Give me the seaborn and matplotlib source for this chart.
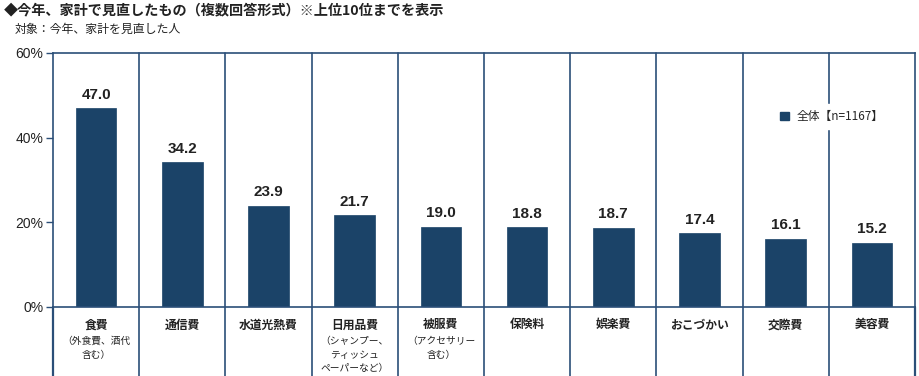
import matplotlib
matplotlib.use("Agg")
import matplotlib.pyplot as plt
import matplotlib.transforms as mtransforms
from matplotlib.patches import Patch
import seaborn as sns
import pandas as pd

# data
categories = ["食費", "通信費", "水道光熱費", "日用品費", "被服費",
              "保険料", "娯楽費", "おこづかい", "交際費", "美容費"]
notes = ["（外食費、酒代\n含む）", "", "", "（シャンプー、\nティッシュ\nペーパーなど）",
         "（アクセサリー\n含む）", "", "", "", "", ""]
values = [47.0, 34.2, 23.9, 21.7, 19.0, 18.8, 18.7, 17.4, 16.1, 15.2]
yticks = [0, 20, 40, 60]
series_label = "全体【n=1167】"

navy = "#1b4368"
line_col = "#2b4f78"

sns.set_theme(style="white")
plt.rcParams["font.family"] = ["Noto Sans CJK JP", "DejaVu Sans"]

df = pd.DataFrame({"cat": categories, "val": values})

fig = plt.figure(figsize=(9.2, 3.76), dpi=100)
ax = fig.add_axes([53 / 920, 69 / 376, 862 / 920, 254 / 376])

sns.barplot(data=df, x="cat", y="val", color=navy, width=0.47, ax=ax,
            saturation=1, edgecolor=navy, linewidth=0.5)

ax.set_xlim(-0.5, len(categories) - 0.5)
ax.set_ylim(0, 60)
ax.set_yticks(yticks)
ax.set_yticklabels([f"{t}%" for t in yticks], family=["Liberation Sans", "DejaVu Sans"],
                   fontsize=10, color="#222222")
ax.tick_params(axis="y", direction="out", length=5, width=1, color=line_col, pad=2, left=True)
ax.set_xticks([])
ax.set_xlabel("")
ax.set_ylabel("")

for s in ax.spines.values():
    s.set_color(line_col)
    s.set_linewidth(1.2)

# separators, continue down through the label area
for i in range(1, len(categories)):
    ax.axvline(i - 0.5, ymin=-0.27, ymax=1, color=line_col, lw=1.2, clip_on=False)
for x in (-0.5, len(categories) - 0.5):
    ax.axvline(x, ymin=-0.27, ymax=0, color=line_col, lw=1.6, clip_on=False)

trans = mtransforms.blended_transform_factory(ax.transData, ax.transAxes)
for i, (c, n, v) in enumerate(zip(categories, notes, values)):
    ax.text(i, v + 1.5, f"{v:.1f}", ha="center", va="bottom", fontsize=11,
            fontweight="bold", color="#222222", family=["Liberation Sans", "DejaVu Sans"])
    ax.text(i, -0.045, c, transform=trans, ha="center", va="top", fontsize=8.5,
            fontweight="bold", color="#222222")
    if n:
        ax.text(i, -0.115, n, transform=trans, ha="center", va="top", fontsize=7,
                color="#222222", linespacing=1.45, multialignment="center")

leg = ax.legend(handles=[Patch(facecolor=navy, edgecolor=navy)], labels=[series_label],
                loc="center left", bbox_to_anchor=(0.83, 0.75), frameon=True,
                facecolor="white", edgecolor="white", framealpha=1, borderpad=0.5,
                handlelength=0.7, handleheight=0.7, handletextpad=0.7, fontsize=8.5)
leg.set_zorder(5)

fig.text(4 / 920, 1 - 10 / 376, "◆今年、家計で見直したもの（複数回答形式）※上位10位までを表示",
         ha="left", va="center", fontsize=10.2, fontweight="bold", color="#222222")
fig.text(15 / 920, 1 - 29 / 376, "対象：今年、家計を見直した人",
         ha="left", va="center", fontsize=8.6, color="#222222")

fig.savefig("out.png", dpi=100)
